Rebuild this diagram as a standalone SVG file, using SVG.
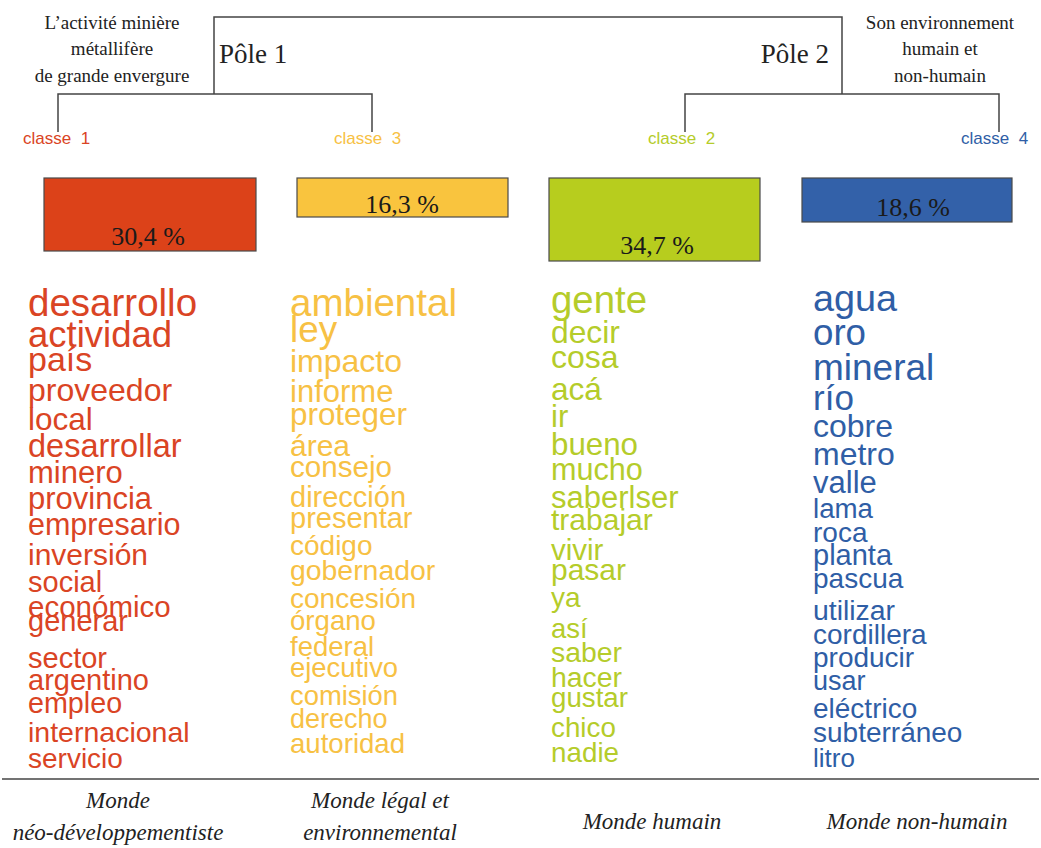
<svg xmlns="http://www.w3.org/2000/svg" width="1041" height="848" viewBox="0 0 1041 848">
<style>
.ser{font-family:"Liberation Serif","Times New Roman",serif;fill:#222}
.cap{font-size:19px;text-anchor:middle}
.pole{font-size:27px}
.cls{font-family:"Liberation Sans",Arial,sans-serif;font-size:17px;white-space:pre}
.pct{font-size:26px;text-anchor:middle;fill:#1a1a1a}
.box{stroke:#4a4a4a;stroke-width:1.2}
.w{font-family:"Liberation Sans",Arial,sans-serif}
.red{fill:#da4424}.yel{fill:#f7c144}.grn{fill:#b5cc2a}.blu{fill:#2f5ea6}
.bot{font-family:"Liberation Serif","Times New Roman",serif;font-style:italic;font-size:23px;text-anchor:middle;fill:#222}
.ln{stroke:#444;stroke-width:1.5;fill:none}
</style>
<g id="connectors">
<path class="ln" d="M214,94 V17 H842 V94"/>
<path class="ln" d="M58,132 V94 H372 V132"/>
<path class="ln" d="M685,132 V94 H999 V132"/>
<line class="ln" x1="2" y1="779" x2="1039" y2="779" stroke="#555"/>
</g>
<g id="pole1">
<text class="ser cap" x="112" y="29">L’activité minière</text>
<text class="ser cap" x="112" y="55">métallifère</text>
<text class="ser cap" x="112" y="82">de grande envergure</text>
<text class="ser pole" x="219" y="63">Pôle 1</text>
</g>
<g id="pole2">
<text class="ser pole" x="829" y="63" text-anchor="end">Pôle 2</text>
<text class="ser cap" x="940" y="29">Son environnement</text>
<text class="ser cap" x="940" y="55">humain et</text>
<text class="ser cap" x="940" y="82">non-humain</text>
</g>
<g id="classe1">
<text class="cls red" x="23" y="144">classe  1</text>
<rect class="box" x="44" y="178" width="212" height="73" fill="#dc4219"/>
<text class="ser pct" x="148" y="245">30,4 %</text>
<g class="w red">
<text x="28" y="316" font-size="38.5">desarrollo</text>
<text x="28" y="347" font-size="36.5">actividad</text>
<text x="28" y="371" font-size="34">país</text>
<text x="28" y="401" font-size="32">proveedor</text>
<text x="28" y="430" font-size="31.5">local</text>
<text x="28" y="457" font-size="32.5">desarrollar</text>
<text x="28" y="483" font-size="31">minero</text>
<text x="28" y="509" font-size="31">provincia</text>
<text x="28" y="535" font-size="30.5">empresario</text>
<text x="28" y="565" font-size="30">inversión</text>
<text x="28" y="592" font-size="29">social</text>
<text x="28" y="617" font-size="29.5">económico</text>
<text x="28" y="631" font-size="29">generar</text>
<text x="28" y="668" font-size="29">sector</text>
<text x="28" y="690" font-size="29">argentino</text>
<text x="28" y="713" font-size="28.7">empleo</text>
<text x="28" y="742" font-size="28.5">internacional</text>
<text x="28" y="768" font-size="28">servicio</text>
</g>
</g>
<g id="classe3">
<text class="cls yel" x="334" y="144">classe  3</text>
<rect class="box" x="297" y="178" width="211" height="39" fill="#f9c43e"/>
<text class="ser pct" x="402" y="213">16,3 %</text>
<g class="w yel">
<text x="290" y="316" font-size="38.5">ambiental</text>
<text x="290" y="342" font-size="36.8">ley</text>
<text x="290" y="372" font-size="32">impacto</text>
<text x="290" y="402" font-size="31">informe</text>
<text x="290" y="425" font-size="31.4">proteger</text>
<text x="290" y="456" font-size="30">área</text>
<text x="290" y="477" font-size="29.6">consejo</text>
<text x="290" y="507" font-size="29">dirección</text>
<text x="290" y="528" font-size="29">presentar</text>
<text x="290" y="555" font-size="28">código</text>
<text x="290" y="580" font-size="28.4">gobernador</text>
<text x="290" y="608" font-size="28">concesión</text>
<text x="290" y="630" font-size="27.6">órgano</text>
<text x="290" y="656" font-size="27.5">federal</text>
<text x="290" y="677" font-size="27.4">ejecutivo</text>
<text x="290" y="705" font-size="27.4">comisión</text>
<text x="290" y="728" font-size="27">derecho</text>
<text x="290" y="753" font-size="27.6">autoridad</text>
</g>
</g>
<g id="classe2">
<text class="cls grn" x="648" y="144">classe  2</text>
<rect class="box" x="549" y="178" width="211" height="83" fill="#b7cd1e"/>
<text class="ser pct" x="657" y="254">34,7 %</text>
<g class="w grn">
<text x="551" y="313" font-size="38.4">gente</text>
<text x="551" y="343" font-size="31.8">decir</text>
<text x="551" y="368" font-size="32">cosa</text>
<text x="551" y="400" font-size="31.6">acá</text>
<text x="551" y="427" font-size="31">ir</text>
<text x="551" y="455" font-size="31.3">bueno</text>
<text x="551" y="480" font-size="30.6">mucho</text>
<text x="551" y="508" font-size="31">saberlser</text>
<text x="551" y="530" font-size="30">trabajar</text>
<text x="551" y="560" font-size="29.5">vivir</text>
<text x="551" y="580" font-size="30">pasar</text>
<text x="551" y="607" font-size="28">ya</text>
<text x="551" y="638" font-size="27.5">así</text>
<text x="551" y="662" font-size="28.4">saber</text>
<text x="551" y="687" font-size="28.4">hacer</text>
<text x="551" y="707" font-size="27.7">gustar</text>
<text x="551" y="737" font-size="27.8">chico</text>
<text x="551" y="762" font-size="27.8">nadie</text>
</g>
</g>
<g id="classe4">
<text class="cls blu" x="961" y="144">classe  4</text>
<rect class="box" x="802" y="178" width="210" height="44" fill="#3361a9"/>
<text class="ser pct" x="913" y="216">18,6 %</text>
<g class="w blu">
<text x="813" y="311" font-size="37.8">agua</text>
<text x="813" y="345" font-size="36.7">oro</text>
<text x="813" y="380" font-size="37">mineral</text>
<text x="813" y="410" font-size="35">río</text>
<text x="813" y="437" font-size="32">cobre</text>
<text x="813" y="465" font-size="32">metro</text>
<text x="813" y="493" font-size="31">valle</text>
<text x="813" y="518" font-size="27.7">lama</text>
<text x="813" y="542" font-size="28">roca</text>
<text x="813" y="565" font-size="29">planta</text>
<text x="813" y="588" font-size="28">pascua</text>
<text x="813" y="620" font-size="28.4">utilizar</text>
<text x="813" y="644" font-size="28">cordillera</text>
<text x="813" y="667" font-size="28">producir</text>
<text x="813" y="690" font-size="27">usar</text>
<text x="813" y="718" font-size="28">eléctrico</text>
<text x="813" y="742" font-size="28">subterráneo</text>
<text x="813" y="767" font-size="26">litro</text>
</g>
</g>
<g id="labels">
<text class="bot" x="118" y="808">Monde</text>
<text class="bot" x="118" y="840">néo-développementiste</text>
<text class="bot" x="380" y="808">Monde légal et</text>
<text class="bot" x="380" y="840">environnemental</text>
<text class="bot" x="652" y="829">Monde humain</text>
<text class="bot" x="917" y="829">Monde non-humain</text>
</g>
</svg>
